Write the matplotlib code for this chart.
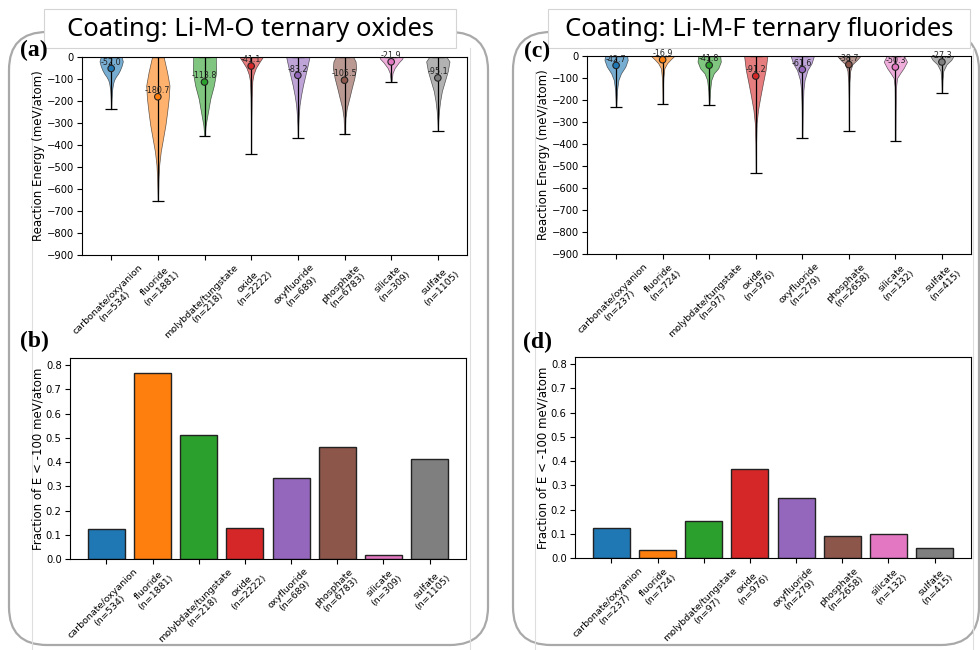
import numpy as np
import matplotlib
matplotlib.use("Agg")
import matplotlib.pyplot as plt
from matplotlib.patches import FancyBboxPatch, Rectangle

# ---------------------------------------------------------------- data
CATEGORIES = ["carbonate/oxyanion", "fluoride", "molybdate/tungstate", "oxide",
              "oxyfluoride", "phosphate", "silicate", "sulfate"]
COLORS = ["#1f77b4", "#ff7f0e", "#2ca02c", "#d62728",
          "#9467bd", "#8c564b", "#e377c2", "#7f7f7f"]

OXIDE_COUNTS = [534, 1881, 218, 2222, 689, 6783, 309, 1105]
FLUORIDE_COUNTS = [237, 724, 97, 976, 279, 2658, 132, 415]

OXIDE_MEANS = [-52.0, -180.7, -113.8, -41.1, -83.2, -105.5, -21.9, -95.1]
FLUORIDE_MEANS = [-42.7, -16.9, -41.8, -91.2, -61.6, -38.7, -50.3, -27.3]

OXIDE_MINS = [-238, -656, -359, -441, -367, -352, -112, -337]
FLUORIDE_MINS = [-233, -218, -224, -530, -374, -342, -385, -168]
ENERGY_MAX = 0

OXIDE_FRACTION = [0.123, 0.766, 0.513, 0.129, 0.333, 0.464, 0.015, 0.414]
FLUORIDE_FRACTION = [0.122, 0.032, 0.154, 0.366, 0.247, 0.089, 0.100, 0.041]

# density profiles: (energy meV/atom, relative density)
OXIDE_DENSITY = [
    [(0, .9), (-20, 1.0), (-40, .9), (-60, .75), (-75, .6), (-90, .4), (-105, .25),
     (-120, .17), (-150, .08), (-190, .04), (-238, .015)],
    [(0, .5), (-70, .8), (-130, 1.0), (-190, .93), (-250, .8), (-310, .65), (-370, .45),
     (-430, .25), (-490, .12), (-550, .06), (-620, .03), (-656, .015)],
    [(0, .97), (-70, 1.0), (-130, .8), (-190, .5), (-250, .3), (-310, .1), (-359, .02)],
    [(0, 1.0), (-20, .75), (-50, .4), (-80, .2), (-110, .1), (-185, .05), (-300, .02),
     (-441, .01)],
    [(0, 1.0), (-37, .85), (-82, .65), (-127, .45), (-173, .28), (-218, .15), (-264, .08),
     (-310, .04), (-367, .015)],
    [(0, .75), (-20, .95), (-50, 1.0), (-95, .85), (-140, .63), (-186, .42), (-232, .2),
     (-277, .08), (-352, .02)],
    [(0, 1.0), (-8, .95), (-25, .65), (-50, .3), (-73, .12), (-112, .03)],
    [(0, .75), (-20, 1.0), (-65, .85), (-110, .6), (-155, .35), (-200, .2), (-245, .1),
     (-290, .04), (-337, .015)],
]
FLUORIDE_DENSITY = [
    [(0, .95), (-18, 1.0), (-48, .8), (-79, .42), (-109, .2), (-155, .08), (-233, .02)],
    [(0, 1.0), (-15, .7), (-33, .38), (-56, .15), (-100, .06), (-150, .03), (-218, .01)],
    [(0, .95), (-26, 1.0), (-56, .78), (-79, .4), (-109, .18), (-155, .08), (-224, .02)],
    [(0, 1.0), (-64, .85), (-124, .62), (-185, .4), (-245, .2), (-305, .08), (-400, .03),
     (-530, .01)],
    [(0, 1.0), (-33, .8), (-64, .45), (-109, .2), (-155, .1), (-230, .05), (-374, .015)],
    [(0, 1.0), (-18, .7), (-38, .3), (-68, .12), (-120, .05), (-200, .025), (-342, .01)],
    [(0, .75), (-26, 1.0), (-56, .7), (-79, .4), (-100, .15), (-140, .06), (-250, .03),
     (-385, .01)],
    [(0, 1.0), (-18, .8), (-38, .4), (-68, .12), (-110, .05), (-168, .02)],
]

ENERGY_TICKS = list(range(-900, 1, 100))
FRACTION_TICKS = [0.0, 0.1, 0.2, 0.3, 0.4, 0.5, 0.6, 0.7, 0.8]

TITLES = ["Coating: Li-M-O ternary oxides", "Coating: Li-M-F ternary fluorides"]

# ---------------------------------------------------------------- layout
W, H = 980, 650
fig = plt.figure(figsize=(W / 100, H / 100), dpi=100)


def px_axes(x0, y0, x1, y1, **kw):
    return fig.add_axes([x0 / W, 1 - y1 / H, (x1 - x0) / W, (y1 - y0) / H], **kw)


TICK_FS = 6.8
YTICK_FS = 7.2
LABEL_FS = 8.5


def tick_labels(counts):
    return [f"{c}\n(n={n})" for c, n in zip(CATEGORIES, counts)]


def style_axes(ax, counts, positions):
    ax.set_xticks(positions)
    ax.set_xticklabels(tick_labels(counts), rotation=45, fontsize=TICK_FS,
                       linespacing=1.1)
    ax.tick_params(axis="x", pad=2)
    ax.tick_params(axis="y", labelsize=YTICK_FS, pad=2.5)


def draw_violins(ax, density, means, mins, counts):
    stats = []
    for prof, mu, lo in zip(density, means, mins):
        e = np.array([p[0] for p in prof], dtype=float)
        d = np.array([p[1] for p in prof], dtype=float)
        stats.append(dict(coords=e, vals=d, mean=mu, median=mu, min=lo, max=ENERGY_MAX))
    pos = np.arange(1, len(density) + 1)
    parts = ax.violin(stats, positions=pos, widths=0.5, showmeans=False,
                      showextrema=True, showmedians=False)
    for body, c in zip(parts["bodies"], COLORS):
        body.set_facecolor(c)
        body.set_edgecolor("black")
        body.set_linewidth(0.5)
        body.set_alpha(0.6)
    for key in ("cbars", "cmins", "cmaxes"):
        parts[key].set_color("black")
        parts[key].set_linewidth(0.9)
    ax.scatter(pos, means, s=22, c=COLORS, edgecolors="#222222", linewidths=0.8,
               zorder=4)
    for x, mu in zip(pos, means):
        ax.annotate(f"{mu:.1f}", (x, mu), xytext=(0, 4.5), textcoords="offset points",
                    ha="center", va="center", fontsize=5.8, color="#222222", zorder=5)
    ax.set_ylim(-900, 0)
    ax.set_yticks(ENERGY_TICKS)
    style_axes(ax, counts, pos)
    ax.set_ylabel("Reaction Energy (meV/atom)", fontsize=LABEL_FS, labelpad=1)


def draw_bars(ax, fractions, counts):
    x = np.arange(len(fractions))
    ax.bar(x, fractions, width=0.8, color=COLORS, edgecolor="#222222", linewidth=1.0)
    ax.set_ylim(0, 0.83)
    ax.set_yticks(FRACTION_TICKS)
    style_axes(ax, counts, x)
    ax.set_ylabel("Fraction of E < -100 meV/atom", fontsize=LABEL_FS, labelpad=1)


# background layer with the rounded frames, title boxes and panel letters
bg = fig.add_axes([0, 0, 1, 1], zorder=-1)
bg.set_xlim(0, W)
bg.set_ylim(H, 0)
bg.axis("off")

for x0, x1 in [(9, 488), (513, 979)]:
    bg.add_patch(FancyBboxPatch((x0, 32), x1 - x0, 613,
                                boxstyle="round,pad=0,rounding_size=38",
                                fc="none", ec="#a9a9a9", lw=1.6))
for x, y0 in [(32, 72), (470, 48), (535, 72), (973, 48)]:
    bg.plot([x, x], [y0, H], color="#dedede", lw=0.8)

for (x0, x1), title in zip([(44, 456), (548, 970)], TITLES):
    bg.add_patch(Rectangle((x0, 9), x1 - x0, 39, fc="white", ec="#d4d4d4", lw=0.8))
    bg.text((x0 + x1) / 2, 30, title, ha="center", va="center", fontsize=18.5,
            family=["Noto Sans", "DejaVu Sans"], color="black")

for (x, y), letter in zip([(20, 50), (20, 341), (524, 51), (523, 342)],
                          ["(a)", "(b)", "(c)", "(d)"]):
    bg.text(x, y, letter, ha="left", va="center", fontsize=17, fontweight="bold",
            family="Liberation Serif")

ax_a = px_axes(82, 57, 467, 255)
ax_b = px_axes(70, 358, 466, 559)
ax_c = px_axes(587, 56, 971, 254)
ax_d = px_axes(575, 357, 971, 558)

draw_violins(ax_a, OXIDE_DENSITY, OXIDE_MEANS, OXIDE_MINS, OXIDE_COUNTS)
draw_bars(ax_b, OXIDE_FRACTION, OXIDE_COUNTS)
draw_violins(ax_c, FLUORIDE_DENSITY, FLUORIDE_MEANS, FLUORIDE_MINS, FLUORIDE_COUNTS)
draw_bars(ax_d, FLUORIDE_FRACTION, FLUORIDE_COUNTS)

fig.savefig("out.png", dpi=100)
